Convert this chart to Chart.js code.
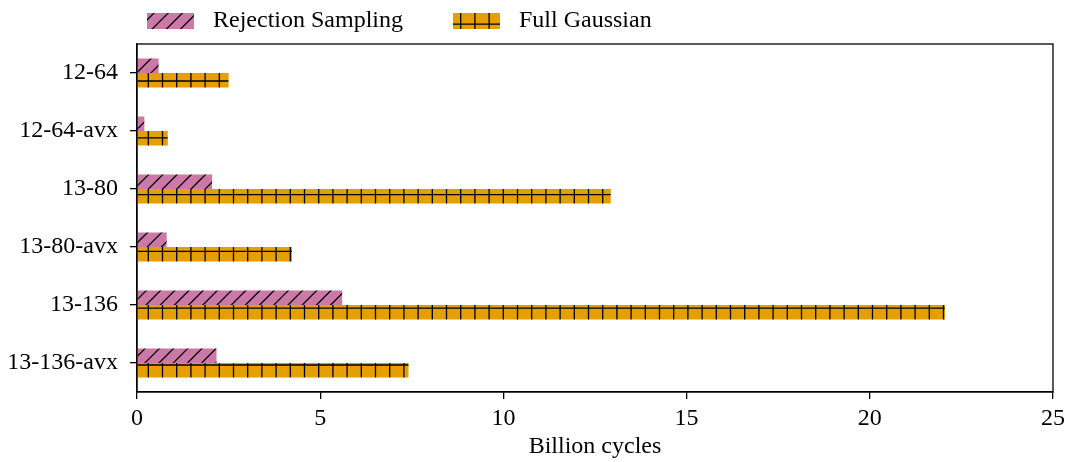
<!DOCTYPE html>
<html>
<head>
<meta charset="utf-8">
<title>Billion cycles</title>
<script src="https://cdn.jsdelivr.net/npm/chart.js@4.4.1/dist/chart.umd.min.js"></script>
<style>
  body { margin: 0; background: #fff; }
</style>
</head>
<body>
<canvas id="cyclesChart" width="1070" height="462"></canvas>
<script>
// Data
const categories = ['12-64', '12-64-avx', '13-80', '13-80-avx', '13-136', '13-136-avx'];
const rejectionSampling = [0.59, 0.2, 2.05, 0.81, 5.6, 2.17];
const fullGaussian = [2.5, 0.84, 12.93, 4.23, 22.05, 7.41];
const xTicks = [0, 5, 10, 15, 20, 25];

const FONT = { family: '"Liberation Serif", serif', size: 24 };

// hatch patterns, anchored to the canvas like matplotlib hatches
function makeHatch(color, kind) {
    const step = 14.2, n = 10, size = Math.round(step * n);
    const c = document.createElement('canvas');
    c.width = size; c.height = size;
    const g = c.getContext('2d');
    g.fillStyle = color;
    g.fillRect(0, 0, size, size);
    g.strokeStyle = '#000';
    g.lineWidth = 1.3;
    g.beginPath();
    if (kind === 'diag') {
        for (let k = -2; k <= 2 * n + 2; k++) {
            const s = 10.8 + k * step;
            g.moveTo(s, 0);
            g.lineTo(s - size, size);
        }
    } else {
        for (let k = 0; k < n; k++) {
            const x = 6.3 + k * step;
            g.moveTo(x, 0); g.lineTo(x, size);
            const y = 10 + k * step;
            g.moveTo(0, y); g.lineTo(size, y);
        }
    }
    g.stroke();
    return g.createPattern(c, 'repeat');
}

const ctx = document.getElementById('cyclesChart').getContext('2d');
const pinkHatch = makeHatch('#cc79a7', 'diag');
const orangeHatch = makeHatch('#e69f00', 'plus');

// frame around the plot plus a matplotlib-style legend
const framePlugin = {
    id: 'frame',
    afterDraw(chart) {
        const a = chart.chartArea, c = chart.ctx;
        c.save();
        c.strokeStyle = '#000';
        c.lineWidth = 1.3;
        c.strokeRect(a.left, a.top, a.right - a.left, a.bottom - a.top);

        c.font = FONT.size + 'px ' + FONT.family;
        c.textBaseline = 'middle';
        let x = 147;
        chart.data.datasets.forEach(ds => {
            c.fillStyle = ds.backgroundColor;
            c.fillRect(x, 13, 47, 16);
            x += 47 + 19;
            c.fillStyle = '#000';
            c.fillText(ds.label, x, 21);
            x += c.measureText(ds.label).width + 50;
        });
        c.restore();
    }
};

new Chart(ctx, {
    type: 'bar',
    data: {
        labels: categories,
        datasets: [
            { label: 'Rejection Sampling', data: rejectionSampling, backgroundColor: pinkHatch, borderWidth: 0 },
            { label: 'Full Gaussian', data: fullGaussian, backgroundColor: orangeHatch, borderWidth: 0 }
        ]
    },
    options: {
        indexAxis: 'y',
        responsive: false,
        animation: false,
        categoryPercentage: 0.5,
        barPercentage: 1.0,
        layout: { padding: { top: 44, right: 15, left: 0, bottom: 0 } },
        plugins: {
            legend: { display: false },
            tooltip: { enabled: false }
        },
        scales: {
            x: {
                type: 'linear',
                min: 0,
                max: 25,
                afterBuildTicks(scale) { scale.ticks = xTicks.map(v => ({ value: v })); },
                afterFit(scale) { scale.height = 70; },
                grid: { drawOnChartArea: false, drawTicks: true, tickLength: 7, color: '#000', lineWidth: 1.3 },
                border: { color: '#000', width: 1.3 },
                ticks: { color: '#000', font: FONT, padding: 5, maxRotation: 0 },
                title: { display: true, text: 'Billion cycles', color: '#000', font: FONT, padding: { top: 0, bottom: 1 } }
            },
            y: {
                afterFit(scale) { scale.width = 137; },
                grid: { offset: false, drawOnChartArea: false, drawTicks: true, tickLength: 7, color: '#000', lineWidth: 1.3 },
                border: { color: '#000', width: 1.3 },
                ticks: { color: '#000', font: FONT, padding: 12 }
            }
        }
    },
    plugins: [framePlugin]
});
</script>
</body>
</html>
